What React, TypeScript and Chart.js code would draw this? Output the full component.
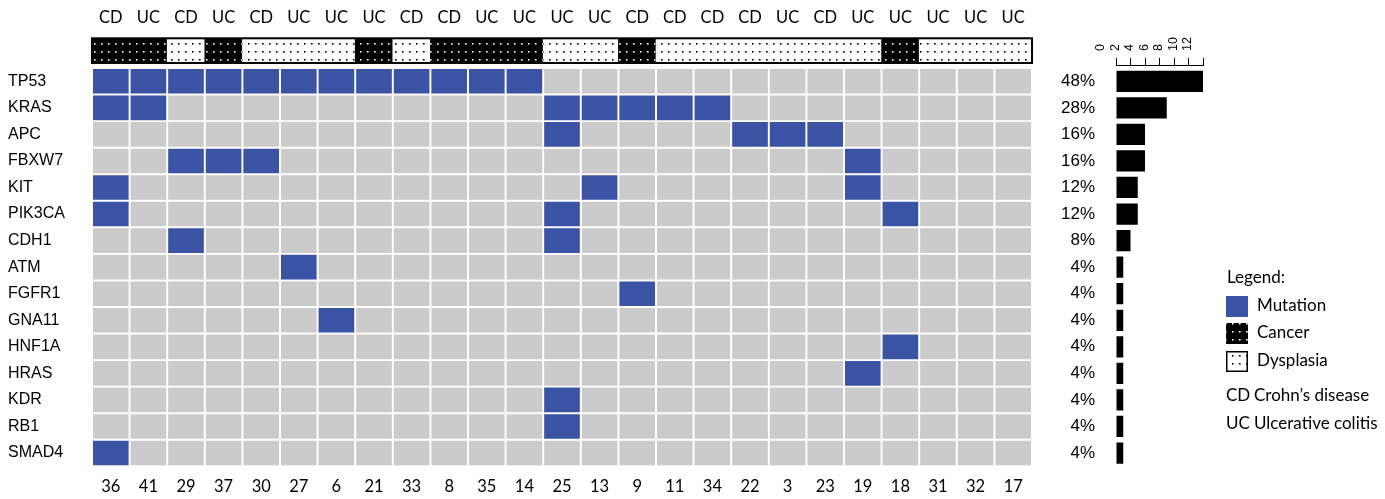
import React, { useEffect, useRef } from 'react';
import { Chart, registerables } from 'chart.js';
Chart.register(...registerables);

const samples = ['36','41','29','37','30','27','6','21','33','8','35','14','25','13','9','11','34','22','3','23','19','18','31','32','17'];
const diagnosis = ['CD','UC','CD','UC','CD','UC','UC','UC','CD','CD','UC','UC','UC','UC','CD','CD','CD','CD','UC','CD','UC','UC','UC','UC','UC'];
const tissue = ['Cancer','Cancer','Dysplasia','Cancer','Dysplasia','Dysplasia','Dysplasia','Cancer','Dysplasia','Cancer','Cancer','Cancer','Dysplasia','Dysplasia','Cancer','Dysplasia','Dysplasia','Dysplasia','Dysplasia','Dysplasia','Dysplasia','Cancer','Dysplasia','Dysplasia','Dysplasia'];
const genes = ['TP53','KRAS','APC','FBXW7','KIT','PIK3CA','CDH1','ATM','FGFR1','GNA11','HNF1A','HRAS','KDR','RB1','SMAD4'];
const mutatedSamples = [
  ['36','41','29','37','30','27','6','21','33','8','35','14'],
  ['36','41','25','13','9','11','34'],
  ['25','22','3','23'],
  ['29','37','30','19'],
  ['36','13','19'],
  ['36','25','18'],
  ['29','25'],
  ['27'],
  ['9'],
  ['6'],
  ['18'],
  ['19'],
  ['25'],
  ['25'],
  ['36'],
];
const mutationCounts = [12, 7, 4, 4, 3, 3, 2, 1, 1, 1, 1, 1, 1, 1, 1];
const percentLabels = ['48%','28%','16%','16%','12%','12%','8%','4%','4%','4%','4%','4%','4%','4%','4%'];
const countTicks = [0, 2, 4, 6, 8, 10, 12];
const legendTitle = 'Legend:';
const legendItems = ['Mutation', 'Cancer', 'Dysplasia'];
const diagnosisLegend = [['CD', 'Crohn\u2019s disease'], ['UC', 'Ulcerative colitis']];

const BLUE = '#3A53A4';
const GRAY = '#CBCBCB';
const SANS = '"Liberation Sans", Arial, sans-serif';
const CAL = 'Lato, "Open Sans", sans-serif';

function makePattern(ctx: CanvasRenderingContext2D, bg: string, dot: string) {
  const c = document.createElement('canvas');
  c.width = 7; c.height = 8;
  const g = c.getContext('2d')!;
  g.fillStyle = bg; g.fillRect(0, 0, 7, 8);
  g.fillStyle = dot; g.fillRect(3, 3, 1.6, 1.6);
  return ctx.createPattern(c, 'repeat')!;
}

const noPad = (s: any) => { s.paddingTop = 0; s.paddingBottom = 0; s.paddingLeft = 0; s.paddingRight = 0; };

export default function App() {
  const heatRef = useRef<HTMLCanvasElement>(null);
  const barRef = useRef<HTMLCanvasElement>(null);

  useEffect(() => {
    Chart.defaults.color = '#000';
    const hctx = heatRef.current!.getContext('2d')!;
    const cancerPat = makePattern(hctx, '#000', '#fff');
    const dysPat = makePattern(hctx, '#fff', '#000');

    const geneSets = genes.map((g, i) => ({
      label: g,
      data: samples.map(() => [i - 0.5, i + 0.5]),
      backgroundColor: samples.map((s) => (mutatedSamples[i].includes(s) ? BLUE : GRAY)),
      borderColor: '#fff',
      borderWidth: 1.3,
      borderSkipped: false as const,
      barPercentage: 1,
      categoryPercentage: 1,
      grouped: false,
    }));
    const stripSet = {
      label: 'tissue',
      data: samples.map(() => [-1.62, -0.69]),
      backgroundColor: tissue.map((t) => (t === 'Cancer' ? cancerPat : dysPat)),
      borderWidth: 0,
      barPercentage: 1,
      categoryPercentage: 1,
      grouped: false,
    };
    const stripIndex = geneSets.length;

    const stripBorder = {
      id: 'stripBorder',
      afterDatasetsDraw(chart: any) {
        const meta = chart.getDatasetMeta(stripIndex);
        const first = meta.data[0];
        const last = meta.data[meta.data.length - 1];
        const left = first.x - first.width / 2;
        const right = last.x + last.width / 2;
        const top = Math.min(first.y, first.base);
        const bottom = Math.max(first.y, first.base);
        const ctx = chart.ctx;
        ctx.save();
        ctx.strokeStyle = '#000';
        ctx.lineWidth = 2;
        ctx.strokeRect(left, top, right - left, bottom - top);
        ctx.restore();
      },
    };

    const heat = new Chart(heatRef.current!, {
      type: 'bar',
      data: { labels: samples, datasets: [...geneSets, stripSet] as any },
      options: {
        animation: false,
        responsive: false,
        layout: { padding: { left: 8, right: 8, top: 0, bottom: 0 } },
        plugins: { legend: { display: false }, tooltip: { enabled: false } },
        scales: {
          x: {
            type: 'category',
            position: 'bottom',
            offset: true,
            grid: { display: false, drawTicks: false },
            border: { display: false },
            ticks: { font: { family: CAL, size: 16.5 }, color: '#000', padding: 10, maxRotation: 0, autoSkip: false },
            afterFit: (s: any) => { s.height = 32.7; noPad(s); },
          },
          x2: {
            type: 'category',
            position: 'top',
            labels: diagnosis,
            offset: true,
            grid: { display: false, drawTicks: false },
            border: { display: false },
            ticks: { font: { family: CAL, size: 16.5 }, color: '#000', padding: 10, maxRotation: 0, autoSkip: false },
            afterFit: (s: any) => { s.height = 37.5; noPad(s); },
          },
          y: {
            type: 'linear',
            reverse: true,
            offset: false,
            min: -1.65,
            max: 14.5,
            grid: { display: false, drawTicks: false },
            border: { display: false },
            afterBuildTicks: (s: any) => { s.ticks = genes.map((_, i) => ({ value: i })); },
            ticks: {
              font: { family: SANS, size: 16 },
              color: '#000',
              crossAlign: 'far',
              autoSkip: false,
              callback: (v: any) => genes[v as number],
            },
            afterFit: (s: any) => { s.width = 84; noPad(s); },
          },
        },
      } as any,
      plugins: [stripBorder],
    });

    const bctx = barRef.current!.getContext('2d')!;
    const cancerPat2 = makePattern(bctx, '#000', '#fff');
    const dysPat2 = makePattern(bctx, '#fff', '#000');

    const legendPlugin = {
      id: 'sideLegend',
      afterDraw(chart: any) {
        const ctx = chart.ctx;
        const x0 = 186;
        ctx.save();
        ctx.font = `17px ${CAL}`;
        ctx.fillStyle = '#000';
        ctx.textBaseline = 'middle';
        ctx.textAlign = 'left';
        ctx.fillText(legendTitle, x0 + 1, 278);
        const fills = [BLUE, cancerPat2, dysPat2];
        const ys = [306, 333, 361];
        legendItems.forEach((t, i) => {
          ctx.fillStyle = fills[i] as any;
          ctx.fillRect(x0, ys[i] - 10, 22, 21);
          if (i === 2) {
            ctx.strokeStyle = '#000';
            ctx.lineWidth = 1.5;
            ctx.strokeRect(x0 + 0.75, ys[i] - 9.25, 20.5, 19.5);
          }
          ctx.fillStyle = '#000';
          ctx.fillText(t, x0 + 31, ys[i]);
        });
        const dys = [396, 424];
        diagnosisLegend.forEach(([a, b], i) => {
          ctx.fillText(a, x0, dys[i]);
          ctx.fillText(b, x0 + 28, dys[i]);
        });
        ctx.restore();
      },
    };

    const bars = new Chart(barRef.current!, {
      type: 'bar',
      data: {
        datasets: [{
          label: 'count',
          data: mutationCounts.map((v, i) => ({ x: v, y: i })),
          backgroundColor: '#000',
          barPercentage: 0.8,
          categoryPercentage: 1,
        }],
      },
      options: {
        animation: false,
        responsive: false,
        indexAxis: 'y',
        layout: { padding: { left: 0, right: 182, top: 0, bottom: 32.7 } },
        plugins: { legend: { display: false }, tooltip: { enabled: false } },
        scales: {
          x: {
            type: 'linear',
            position: 'top',
            min: 0,
            max: 12,
            offset: false,
            afterBuildTicks: (s: any) => { s.ticks = countTicks.map((v) => ({ value: v })); },
            grid: { display: true, drawOnChartArea: false, drawTicks: true, tickLength: 7, color: '#000', lineWidth: 1 },
            border: { display: true, color: '#000', width: 1 },
            ticks: { font: { family: SANS, size: 12.5 }, color: '#000', minRotation: 90, maxRotation: 90, padding: 7, autoSkip: false },
            afterFit: (s: any) => { s.height = 65; noPad(s); },
          },
          y: {
            type: 'linear',
            reverse: true,
            offset: false,
            min: -0.613,
            max: 14.5,
            afterBuildTicks: (s: any) => { s.ticks = percentLabels.map((_, i) => ({ value: i })); },
            grid: { display: false, drawTicks: false, offset: false },
            border: { display: false },
            ticks: {
              font: { family: SANS, size: 17 },
              color: '#000',
              padding: 21,
              autoSkip: false,
              callback: (v: any) => percentLabels[v as number],
            },
            afterFit: (s: any) => { s.width = 76; noPad(s); },
          },
        },
      } as any,
      plugins: [legendPlugin],
    });

    return () => { heat.destroy(); bars.destroy(); };
  }, []);

  return (
    <div style={{ position: 'absolute', left: 0, top: 0, width: 1385, height: 499, background: '#fff' }}>
      <canvas ref={heatRef} width={1040} height={499} style={{ position: 'absolute', left: 0, top: 0, width: 1040, height: 499 }} />
      <canvas ref={barRef} width={345} height={499} style={{ position: 'absolute', left: 1040, top: 0, width: 345, height: 499 }} />
    </div>
  );
}
